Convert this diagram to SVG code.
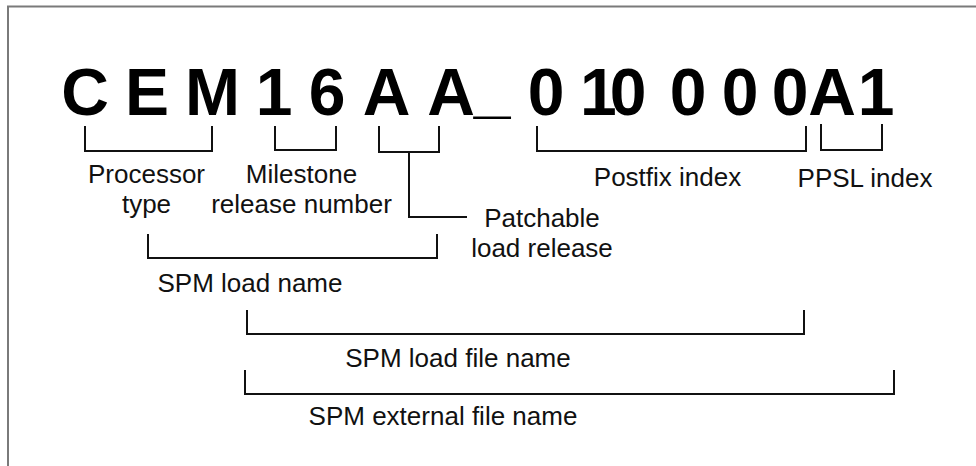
<svg xmlns="http://www.w3.org/2000/svg" width="976" height="466" viewBox="0 0 976 466">
<style>
.big{font-family:"Liberation Sans",Arial,sans-serif;font-weight:bold;font-size:66px;fill:#000;text-anchor:middle}
.lbl{font-family:"Liberation Sans",Arial,sans-serif;font-size:26px;fill:#111;text-anchor:middle}
.br{fill:none;stroke:#111;stroke-width:2}
</style>
<rect x="0" y="0" width="976" height="466" fill="#fff"/>
<path d="M8,466 V6.5 H976" fill="none" stroke="#7a7a7a" stroke-width="2"/>
<g id="code">
<text class="big" x="85" y="115">C</text>
<text class="big" x="147" y="115">E</text>
<text class="big" x="212.5" y="115">M</text>
<text class="big" x="274" y="115">1</text>
<text class="big" x="327" y="115">6</text>
<text class="big" x="386.5" y="115">A</text>
<text class="big" x="451" y="115">A</text>
<text class="big" x="492" y="111">_</text>
<text class="big" x="546" y="115">0</text>
<text class="big" x="580" y="115" style="text-anchor:start" letter-spacing="-7">10</text>
<text class="big" x="688" y="115">0</text>
<text class="big" x="740" y="115">0</text>
<text class="big" x="790" y="115">0</text>
<text class="big" x="832" y="115">A</text>
<text class="big" x="876" y="115">1</text>
</g>
<g id="connectors">
<path class="br" d="M85,126 V151 H212 V126"/>
<path class="br" d="M275,126 V150 H336 V126"/>
<path class="br" d="M379,126 V152 H439 V126"/>
<path class="br" d="M409,152 V217 H467"/>
<path class="br" d="M537,126 V151 H806 V126"/>
<path class="br" d="M821,124 V150 H882 V124"/>
<path class="br" d="M148,234 V258 H437 V234"/>
<path class="br" d="M247,310 V334 H804 V310"/>
<path class="br" d="M245,370 V394 H894 V370"/>
</g>
<g id="processor-type"><text class="lbl" x="146.5" y="183">Processor</text><text class="lbl" x="146.5" y="213">type</text></g>
<g id="milestone"><text class="lbl" x="301.5" y="183">Milestone</text><text class="lbl" x="301.5" y="213">release number</text></g>
<g id="patchable"><text class="lbl" x="542" y="227">Patchable</text><text class="lbl" x="542" y="257">load release</text></g>
<g id="postfix"><text class="lbl" x="667.5" y="186">Postfix index</text></g>
<g id="ppsl"><text class="lbl" x="865" y="187">PPSL index</text></g>
<g id="spm-load-name"><text class="lbl" x="250" y="292">SPM load name</text></g>
<g id="spm-load-file-name"><text class="lbl" x="458" y="367">SPM load file name</text></g>
<g id="spm-external-file-name"><text class="lbl" x="443" y="425">SPM external file name</text></g>
</svg>
